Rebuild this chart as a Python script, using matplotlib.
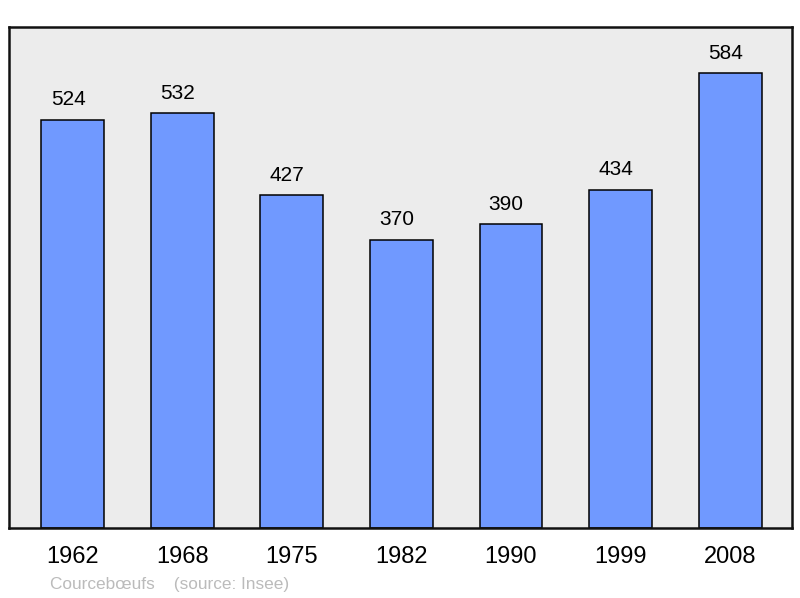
import numpy as np
from matplotlib import pyplot as plt

years = ['1962', '1968', '1975', '1982', '1990', '1999', '2008']
population = [524, 532, 427, 370, 390, 434, 584]

plt.rcParams['font.family'] = ['Liberation Sans', 'DejaVu Sans']

fig = plt.figure(figsize=(8, 5.98), dpi=100)
ax = fig.add_axes([9/800, 70/598, 783/800, 501/598])
ax.set_facecolor('#ececec')

x = np.arange(len(years))
ax.bar(x, population, width=0.575, color='#7099ff', edgecolor='black', linewidth=1.1)

for xi, v in zip(x, population):
    ax.annotate(str(v), (xi, v), xytext=(-3.5, 7.5), textcoords='offset points',
                ha='center', va='bottom', fontsize=15)

ax.set_xlim(-0.584, 6.566)
ax.set_ylim(0, 643)
ax.set_xticks(x)
ax.set_xticklabels(years, fontsize=17)
ax.tick_params(axis='x', length=0, pad=13)
ax.set_yticks([])
for s in ax.spines.values():
    s.set_linewidth(1.8)
    s.set_color('#111111')

fig.text(50/800, 1 - 584/598, 'Courcebœufs    (source: Insee)', fontsize=12.4,
         color='#bbbbbb', va='center', ha='left')

fig.savefig('out.png', dpi=100)
